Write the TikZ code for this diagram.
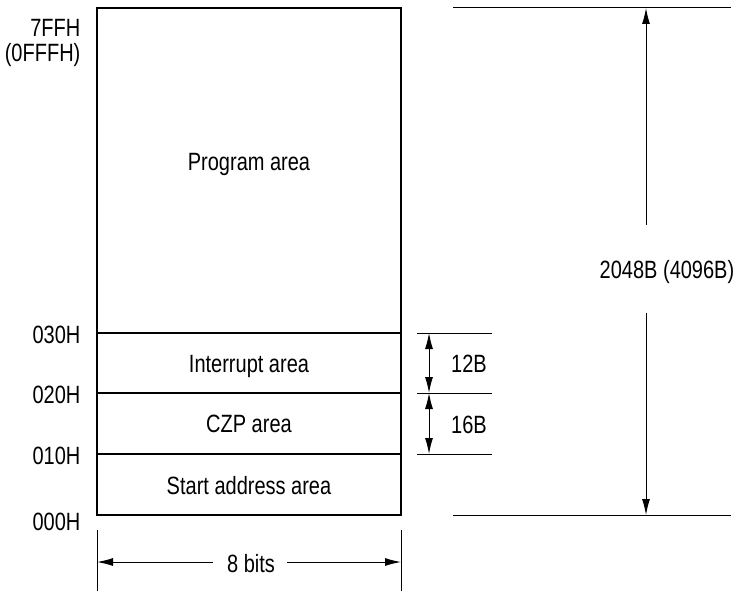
\documentclass[tikz,border=0pt]{standalone}
\usepackage{fontspec}
\setmainfont{Liberation Sans}[FakeStretch=0.8]
\usetikzlibrary{arrows.meta}
\tikzset{
	dimarrow/.style={-{Latex[length=16pt,width=8pt]}, line width=1pt},
	dimboth/.style={{Latex[length=16pt,width=8pt]}-{Latex[length=16pt,width=8pt]}, line width=1pt},
	extline/.style={line width=1pt},
	addr/.style={anchor=base east, inner sep=0pt},
	lbl/.style={anchor=base, inner sep=0pt}
}

\begin{document}
\begin{tikzpicture}[x=1pt, y=-1pt, line width=1.3pt, font=\fontsize{25}{26}\selectfont]
			\useasboundingbox (0,0) rectangle (741,591);

			% Draw the memory map
			\coordinate (topL) at (97,8);
			\coordinate (botR) at (401,515);
			\coordinate (a030) at (97,333);
			\coordinate (a020) at (97,393);
			\coordinate (a010) at (97,454);
			\draw (topL) rectangle (botR);
			\draw (a030) -- (a030 -| botR);
			\draw (a020) -- (a020 -| botR);
			\draw (a010) -- (a010 -| botR);

			% Area names
			\node[lbl] (prog) at (249,170) {Program area};
			\node[lbl] (intr) at (249,372) {Interrupt area};
			\node[lbl] (czp) at (249,432) {CZP area};
			\node[lbl] (start) at (249,494) {Start address area};

			% Addresses
			\node[addr] (l7ff) at (81,37) {7FFH};
			\node[addr] (l0fff) at (81,62) {(0FFFH)};
			\node[addr] (l030) at (81,343) {030H};
			\node[addr] (l020) at (81,403) {020H};
			\node[addr] (l010) at (81,464) {010H};
			\node[addr] (l000) at (81,530) {000H};

			% Draw the 12B and 16B dimensions
			\coordinate (e030) at (417,333);
			\coordinate (e020) at (417,393);
			\coordinate (e010) at (417,454);
			\draw[extline] (e030) -- ++(75,0);
			\draw[extline] (e020) -- ++(75,0);
			\draw[extline] (e010) -- ++(75,0);
			\draw[dimboth] ([xshift=12pt]e030) -- ([xshift=12pt]e020);
			\draw[dimboth] ([xshift=12pt]e020) -- ([xshift=12pt]e010);
			\node[lbl] (b12) at (469,372) {12B};
			\node[lbl] (b16) at (469,433) {16B};

			% Draw the total size
			\coordinate (ttop) at (453,8);
			\coordinate (tbot) at (453,515);
			\draw[extline] (ttop) -- ++(278,0);
			\draw[extline] (tbot) -- ++(278,0);
			\node[lbl] (total) at (667,278) {2048B (4096B)};
			\coordinate (tup) at (646,225);
			\coordinate (tdown) at (646,313);
			\draw[dimarrow] (tup) -- (tup |- ttop);
			\draw[dimarrow] (tdown) -- (tdown |- tbot);

			% Draw the width
			\draw[extline] (97,530) -- (97,591);
			\draw[extline] (401,530) -- (401,591);
			\node[lbl] (bits) at (251,572) {8 bits};
			\coordinate (wl) at (213,562);
			\coordinate (wr) at (287,562);
			\draw[dimarrow] (wl) -- (wl -| topL);
			\draw[dimarrow] (wr) -- (wr -| botR);
		\end{tikzpicture}
\end{document}
